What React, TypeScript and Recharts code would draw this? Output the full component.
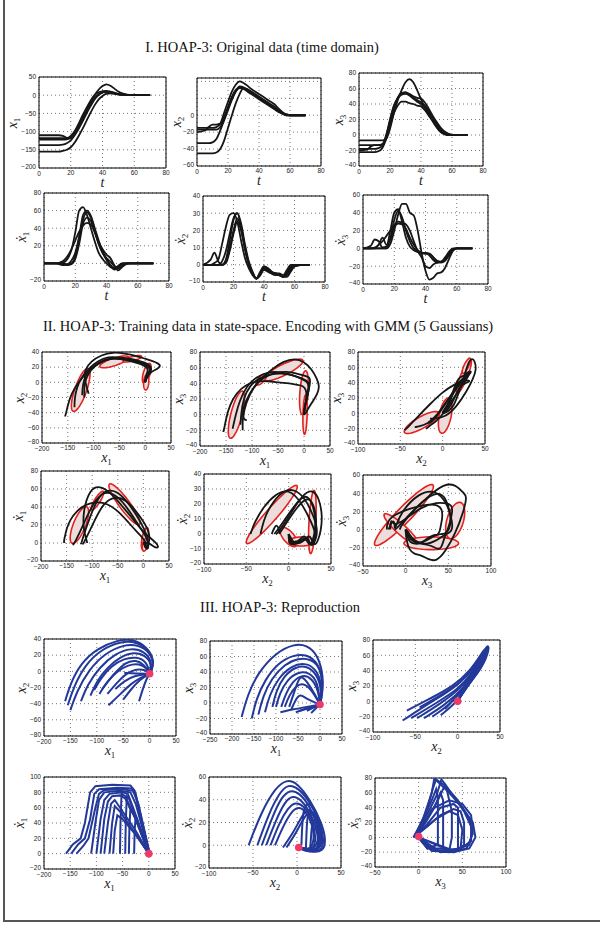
import React from 'react';
import { ScatterChart, Scatter, XAxis, YAxis, CartesianGrid, ReferenceArea } from 'recharts';

// time samples shared by the 5 demonstrations
const T = [0, 5, 7.5, 10, 12.5, 15, 17.5, 20, 22.5, 25, 27.5, 30, 32.5, 35, 37.5, 40, 42.5, 45, 47.5, 50, 52.5, 55, 57.5, 60, 65, 70];

// x1 per demo
const x1A = [-155, -155, -155, -155, -155, -153, -150, -143, -130, -112, -92, -70, -48, -28, -12, -2, 4, 5, 4, 2, 1, 0, 0, 0, 0, 0];
const x1B = [-137, -137, -137, -137, -137, -136, -132, -124, -110, -92, -72, -50, -30, -12, 0, 8, 10, 9, 6, 3, 1, 0, 0, 0, 0, 0];
const x1C = [-110, -110, -110, -110, -110, -112, -117, -118, -105, -85, -62, -40, -18, 0, 15, 25, 30, 26, 18, 10, 5, 2, 0, 0, 0, 0];
const x1D = [-118, -118, -118, -118, -118, -118, -118, -112, -98, -78, -55, -34, -15, 0, 8, 11, 12, 10, 7, 4, 2, 1, 0, 0, 0, 0];
const x1E = [-122, -122, -122, -122, -122, -122, -121, -117, -104, -85, -64, -43, -24, -8, 3, 8, 9, 7, 5, 2, 1, 0, 0, 0, 0, 0];

// x2 per demo
const x2A = [-45, -45, -45, -45, -44, -40, -30, -15, 0, 14, 25, 32, 31, 28, 25, 22, 19, 16, 13, 10, 6, 3, 1, 0, 0, 0];
const x2B = [-33, -33, -33, -32, -28, -18, -6, 6, 18, 28, 34, 33, 30, 27, 24, 21, 18, 15, 11, 8, 5, 2, 1, 0, 0, 0];
const x2C = [-15, -15, -15, -15, -14, -10, 3, 16, 28, 36, 40, 38, 35, 31, 28, 25, 22, 19, 16, 13, 8, 4, 1, 0, 0, 0];
const x2D = [-20, -18, -14, -11, -11, -10, -2, 10, 22, 30, 33, 32, 29, 26, 23, 20, 17, 14, 11, 8, 5, 2, 0, 0, 0, 0];
const x2E = [-17, -17, -17, -17, -17, -14, -4, 8, 20, 28, 32, 31, 28, 25, 22, 19, 16, 13, 10, 7, 4, 2, 0, 0, 0, 0];

// x3 per demo
const x3A = [-22, -22, -22, -22, -21, -17, -5, 12, 28, 38, 43, 43, 41, 40, 38, 37, 32, 25, 18, 11, 5, 2, 0, 0, 0, 0];
const x3B = [-18, -18, -18, -18, -17, -14, -2, 18, 37, 48, 54, 55, 52, 48, 45, 42, 38, 31, 23, 15, 8, 3, 1, 0, 0, 0];
const x3C = [-7, -7, -7, -7, -7, -7, -5, 8, 28, 45, 58, 68, 72, 68, 58, 46, 36, 27, 18, 10, 4, 1, 0, 0, 0, 0];
const x3D = [-20, -19, -15, -13, -13, -12, -5, 15, 35, 48, 54, 55, 53, 50, 48, 47, 42, 34, 25, 17, 10, 5, 2, 0, 0, 0];
const x3E = [-13, -13, -13, -13, -13, -12, 0, 20, 38, 47, 52, 53, 51, 47, 43, 40, 35, 28, 20, 12, 6, 2, 0, 0, 0, 0];

// velocities per demo
const dx1A = [0, 0, 0, 1, 3, 8, 16, 26, 36, 43, 46, 44, 35, 22, 12, 6, 2, -3, -6, -3, 0, 0, 0, 0, 0, 0];
const dx1B = [0, 0, 0, -1, -2, -1, 3, 12, 30, 50, 58, 52, 38, 22, 12, 4, -2, -7, -5, -1, 0, 0, 0, 0, 0, 0];
const dx1C = [0, 0, 0, 0, 1, 5, 15, 35, 60, 64, 55, 40, 25, 12, 5, 0, -4, -6, -3, 0, 0, 0, 0, 0, 0, 0];
const dx1D = [0, 0, 0, 0, -1, -2, -1, 5, 22, 45, 52, 48, 36, 24, 16, 10, 6, -2, -8, -4, -1, 0, 0, 0, 0, 0];
const dx1E = [0, 0, 0, 0, 0, -1, 0, 8, 30, 55, 60, 54, 40, 26, 14, 5, -2, -5, -3, 0, 0, 0, 0, 0, 0, 0];

const dx2A = [0, 0, 0, 0, 2, 8, 18, 27, 30, 22, 10, 1, -5, -8, -6, -2, -3, -5, -6, -6, -7, -6, -3, -1, 0, 0];
const dx2B = [0, 0, 1, 3, 12, 22, 29, 30, 25, 14, 4, -2, -6, -8, -5, -3, -4, -5, -5, -6, -7, -5, -2, 0, 0, 0];
const dx2C = [0, 0, 0, 0, 0, 3, 14, 26, 30, 24, 12, 2, -4, -8, -5, -1, -2, -4, -5, -6, -7, -4, -1, 0, 0, 0];
const dx2D = [0, 3, 7, 2, 0, 1, 8, 18, 25, 20, 9, 0, -5, -8, -6, -3, -3, -5, -5, -6, -7, -7, -4, -1, 0, 0];
const dx2E = [0, 0, 0, 0, 0, 2, 10, 20, 27, 21, 10, 1, -5, -8, -4, -1, -2, -4, -5, -5, -6, -3, 0, 0, 0, 0];

const dx3A = [0, 0, 1, 4, 8, 14, 20, 25, 28, 27, 22, 12, 4, -2, -5, -6, -6, -10, -15, -16, -14, -8, -2, 0, 0, 0];
const dx3B = [0, 0, 0, 4, 12, 4, 10, 25, 30, 29, 27, 20, 8, -3, -10, -20, -22, -18, -16, -15, -13, -7, -2, 0, 0, 0];
const dx3C = [0, 0, 0, 0, 0, 0, 5, 20, 38, 50, 50, 40, 37, 20, -5, -25, -35, -33, -28, -27, -22, -12, -3, 0, 0, 0];
const dx3D = [0, 3, 10, 8, 1, 2, 20, 40, 44, 30, 12, 2, -2, -4, -5, -5, -8, -13, -16, -15, -12, -6, -1, 0, 0, 0];
const dx3E = [0, 0, 0, 0, 0, 0, 12, 32, 42, 35, 20, 8, 0, -4, -5, -5, -6, -10, -14, -15, -10, -4, 0, 0, 0, 0];

const X1 = [x1A, x1B, x1C, x1D, x1E];
const X2 = [x2A, x2B, x2C, x2D, x2E];
const X3 = [x3A, x3B, x3C, x3D, x3E];
const DX1 = [dx1A, dx1B, dx1C, dx1D, dx1E];
const DX2 = [dx2A, dx2B, dx2C, dx2D, dx2E];
const DX3 = [dx3A, dx3B, dx3C, dx3D, dx3E];

// GMM components: centre c, principal half-axes a and b (data units)
type Gauss = { c: number[]; a: number[]; b: number[] };
const gmmX1X2: Gauss[] = [
  { c: [-125, -10], a: [15, 28], b: [10, -4] },
  { c: [-60, 27], a: [28, 6], b: [-1, 5] },
  { c: [-25, 31], a: [18, 3], b: [0, 3] },
  { c: [3, 12], a: [6, 13], b: [6, -2] },
  { c: [2, 0], a: [1, 10], b: [5, 0] },
];
const gmmX1X3: Gauss[] = [
  { c: [-130, 0], a: [12, 30], b: [10, -3] },
  { c: [-40, 57], a: [38, 12], b: [-2, 7] },
  { c: [-82, 45], a: [10, 6], b: [2, -4] },
  { c: [0, 28], a: [3, 28], b: [8, 0] },
  { c: [2, 0], a: [1, 25], b: [4, 0] },
];
const gmmX2X3: Gauss[] = [
  { c: [-25, -12], a: [20, 13], b: [-4, 6] },
  { c: [3, -3], a: [4, 23], b: [7, -1] },
  { c: [25, 48], a: [8, 22], b: [4, -1] },
  { c: [28, 62], a: [4, 10], b: [3, 0] },
];
const gmmX1D1: Gauss[] = [
  { c: [-125, 20], a: [15, 20], b: [10, -4] },
  { c: [-90, 47], a: [12, 10], b: [3, -3] },
  { c: [-37, 43], a: [30, -22], b: [5, 6] },
  { c: [3, 5], a: [5, 12], b: [5, -2] },
  { c: [3, -2], a: [2, 7], b: [5, 0] },
];
const gmmX2D2: Gauss[] = [
  { c: [-20, 13], a: [30, 19], b: [-3, 4] },
  { c: [0, -2], a: [10, -5], b: [2, 4] },
  { c: [15, -5], a: [15, 0], b: [0, 3] },
  { c: [28, 8], a: [2, 21], b: [4, 0] },
];
const gmmX3D3: Gauss[] = [
  { c: [-2, 16], a: [34, 33], b: [-6, 6] },
  { c: [-5, 0], a: [20, -17], b: [4, 4] },
  { c: [30, -15], a: [32, 0], b: [0, 7] },
  { c: [58, 10], a: [5, 20], b: [10, 0] },
];

// reproductions (section III)
const rep12 = [
  [[-160, -37], [-150, -15], [-130, 10], [-100, 28], [-60, 39], [-30, 40], [-5, 30], [8, 15], [5, 2], [0, -3]],
  [[-155, -42], [-143, -18], [-122, 8], [-92, 27], [-55, 37], [-25, 37], [0, 25], [8, 12], [3, 0], [0, -3]],
  [[-150, -48], [-138, -25], [-115, 2], [-85, 22], [-50, 33], [-20, 33], [2, 22], [8, 10], [0, -3]],
  [[-130, -37], [-118, -17], [-95, 5], [-65, 22], [-35, 29], [-10, 25], [5, 12], [0, -3]],
  [[-112, -30], [-100, -12], [-80, 5], [-55, 18], [-30, 24], [-8, 20], [5, 8], [0, -3]],
  [[-105, -23], [-92, -8], [-72, 7], [-48, 16], [-25, 18], [-5, 12], [0, -3]],
  [[-95, -28], [-80, -12], [-62, 0], [-40, 8], [-20, 10], [-3, 3], [0, -3]],
  [[-90, -22], [-70, -5], [-45, 12], [-25, 14], [-10, 8], [0, -3]],
  [[-80, -28], [-62, -14], [-45, -3], [-25, 3], [-8, 2], [0, -3]],
  [[-78, -42], [-55, -28], [-35, -15], [-15, -7], [0, -3]],
  [[-65, -22], [-48, -12], [-28, -5], [0, -3]],
  [[-50, -35], [-35, -22], [-18, -10], [0, -3]],
  [[-48, -2], [-25, -3], [0, -3]],
  [[-20, -37], [-12, -20], [-5, -8], [0, -3]],
];
const rep13 = [
  [[-178, -18], [-165, 10], [-140, 40], [-100, 65], [-60, 76], [-30, 75], [-5, 62], [8, 35], [5, 10], [0, -2]],
  [[-155, -20], [-145, 5], [-125, 30], [-95, 52], [-60, 62], [-30, 63], [-5, 52], [8, 30], [3, 5], [0, -2]],
  [[-140, -15], [-130, 8], [-110, 32], [-80, 50], [-50, 58], [-20, 57], [2, 45], [6, 20], [0, -2]],
  [[-125, -12], [-115, 10], [-95, 32], [-65, 48], [-35, 52], [-10, 45], [5, 25], [0, -2]],
  [[-108, -5], [-100, 15], [-82, 35], [-55, 47], [-30, 48], [-8, 38], [4, 18], [0, -2]],
  [[-100, -5], [-92, 12], [-75, 30], [-50, 40], [-25, 40], [-5, 28], [0, -2]],
  [[-88, -5], [-78, 12], [-62, 28], [-40, 37], [-18, 32], [-3, 15], [0, -2]],
  [[-80, -5], [-70, 10], [-55, 22], [-38, 26], [-20, 18], [0, -2]],
  [[-70, -5], [-55, 20], [-45, 37], [-30, 28], [-10, 10], [0, -2]],
  [[-65, -8], [-55, 5], [-45, 12], [-30, 5], [0, -2]],
  [[-90, -12], [-60, -8], [-30, -5], [0, -2]],
  [[-55, -12], [-35, -8], [-15, -5], [0, -2]],
  [[-45, -10], [-25, -6], [0, -2]],
  [[-30, -10], [-15, -6], [0, -2]],
  [[-20, -13], [-8, -6], [0, -2]],
];
const rep23 = [
  [[-65, -25], [-30, 0], [0, 20], [20, 45], [32, 68], [37, 75], [35, 60], [20, 40], [5, 15], [0, 0]],
  [[-60, -12], [-30, 5], [-5, 20], [15, 40], [28, 62], [34, 72], [33, 55], [18, 35], [5, 12], [0, 0]],
  [[-55, -22], [-25, -2], [0, 15], [18, 38], [30, 60], [35, 68], [30, 52], [15, 30], [0, 0]],
  [[-48, -22], [-20, -3], [5, 18], [20, 40], [30, 58], [33, 62], [28, 48], [12, 25], [0, 0]],
  [[-45, -8], [-20, 8], [5, 25], [20, 45], [30, 62], [25, 50], [10, 25], [0, 0]],
  [[-40, -22], [-15, -5], [8, 18], [22, 42], [32, 65], [36, 70], [30, 45], [12, 22], [0, 0]],
  [[-30, -20], [-10, -5], [10, 20], [25, 48], [35, 74], [38, 70], [30, 45], [10, 18], [0, 0]],
  [[-20, -18], [-5, -5], [10, 15], [25, 45], [33, 65], [28, 58], [15, 35], [0, 0]],
  [[-15, -10], [-2, 5], [12, 25], [25, 50], [30, 60], [20, 38], [5, 10], [0, 0]],
];
const rep1d = [
  [[-158, 0], [-145, 12], [-130, 20], [-122, 40], [-112, 80], [-102, 88], [-70, 90], [-35, 89], [-27, 82], [-15, 45], [0, 5], [2, 0]],
  [[-148, 0], [-135, 12], [-122, 20], [-112, 45], [-104, 78], [-95, 84], [-60, 86], [-33, 85], [-25, 78], [-12, 40], [0, 3], [2, 0]],
  [[-138, 0], [-125, 10], [-115, 20], [-102, 60], [-95, 78], [-85, 83], [-50, 84], [-30, 82], [-20, 65], [0, 5]],
  [[-110, 0], [-102, 40], [-95, 70], [-85, 80], [-55, 82], [-35, 80], [-25, 65], [0, 3]],
  [[-100, 0], [-92, 45], [-85, 70], [-75, 78], [-50, 80], [-40, 78], [-30, 60], [0, 2]],
  [[-92, 0], [-85, 45], [-78, 68], [-70, 75], [-55, 76], [-45, 72], [-25, 45], [0, 0]],
  [[-85, 0], [-78, 40], [-72, 65], [-65, 70], [-50, 55], [-25, 30], [0, 0]],
  [[-75, 0], [-70, 40], [-65, 62], [-55, 55], [-30, 30], [0, 0]],
  [[-68, 0], [-65, 30], [-60, 50], [-50, 45], [-25, 25], [0, 0]],
  [[-55, 0], [-54, 40], [-52, 78], [-45, 75], [-25, 45], [0, 0]],
  [[-45, 0], [-44, 40], [-42, 75], [-38, 72], [-20, 40], [0, 0]],
  [[-38, 0], [-37, 35], [-35, 60], [-28, 50], [-12, 25], [0, 0]],
  [[-28, 0], [-27, 30], [-25, 50], [-15, 30], [0, 0]],
];
const rep2d = [
  [[-55, 0], [-40, 30], [-25, 50], [-12, 58], [0, 55], [15, 40], [28, 20], [33, 5], [30, -6], [15, -6], [2, -2]],
  [[-45, 0], [-32, 28], [-20, 46], [-10, 54], [2, 50], [15, 38], [27, 18], [31, 3], [27, -6], [12, -5], [2, -2]],
  [[-40, 0], [-28, 25], [-18, 42], [-8, 49], [3, 46], [15, 34], [25, 15], [28, 0], [22, -6], [2, -2]],
  [[-35, 0], [-24, 22], [-14, 38], [-5, 44], [5, 40], [16, 28], [24, 10], [25, -3], [15, -6], [2, -2]],
  [[-30, 0], [-20, 20], [-10, 33], [-2, 38], [8, 35], [18, 22], [22, 5], [18, -5], [2, -2]],
  [[-25, 0], [-15, 18], [-6, 30], [2, 34], [10, 30], [18, 18], [20, 2], [12, -5], [2, -2]],
  [[-16, -2], [-5, 10], [5, 25], [12, 33], [20, 28], [25, 12], [25, -5], [10, -6], [2, -2]],
  [[-12, -2], [0, 12], [10, 28], [18, 30], [24, 15], [24, -5], [2, -2]],
  [[5, 0], [6, 20], [8, 35], [15, 38], [25, 25], [30, 5], [25, -6], [2, -2]],
  [[10, -5], [11, 15], [12, 30], [20, 30], [28, 12], [28, -6], [2, -2]],
  [[15, -5], [16, 10], [18, 25], [24, 20], [28, 0], [20, -6], [2, -2]],
];
const rep3d = [
  [[-5, 0], [5, 25], [15, 60], [18, 80], [22, 75], [35, 60], [50, 40], [62, 20], [65, 0], [58, -15], [40, -20], [20, -18], [5, -8], [0, 0]],
  [[-5, 2], [8, 30], [16, 65], [20, 78], [30, 70], [45, 50], [58, 25], [62, 5], [55, -15], [35, -20], [15, -18], [0, 0]],
  [[-6, 0], [5, 20], [20, 55], [26, 78], [30, 72], [40, 55], [52, 35], [60, 15], [60, -5], [45, -18], [20, -18], [0, 0]],
  [[-4, 3], [10, 25], [22, 50], [30, 70], [32, 65], [35, 50], [38, 35], [38, 0], [35, -18], [15, -18], [0, 0]],
  [[-5, 0], [8, 20], [18, 40], [25, 60], [28, 50], [28, 20], [28, -15], [10, -15], [0, 0]],
  [[-4, 0], [10, 18], [25, 40], [40, 45], [45, 40], [45, 0], [45, -18], [25, -20], [0, 0]],
  [[-5, 2], [10, 15], [25, 30], [40, 38], [48, 35], [52, 20], [52, -10], [40, -20], [0, 0]],
  [[-6, 0], [5, 10], [20, 25], [35, 35], [45, 30], [50, 10], [48, -15], [20, -18], [0, 0]],
  [[-5, 0], [15, 50], [20, 65], [22, 55], [22, 20], [22, -10], [10, -15], [0, 0]],
  [[-4, 0], [5, 15], [15, 38], [35, 50], [50, 45], [60, 30], [62, 10], [58, -10], [40, -18], [0, 0]],
];

const goals = [[0, -3], [0, -2], [0, 0], [0, 0], [2, -2], [0, 1]];

type Pt = { x: number; y: number };
const pair = (xs: number[], ys: number[]): Pt[] => xs.map((x, i) => ({ x, y: ys[i] }));
const fromPairs = (c: number[][]): Pt[] => c.map(([x, y]) => ({ x, y }));
const ellipsePts = (g: Gauss): Pt[] =>
  Array.from({ length: 60 }, (_, k) => {
    const th = (k / 60) * Math.PI * 2;
    return { x: g.c[0] + Math.cos(th) * g.a[0] + Math.sin(th) * g.b[0], y: g.c[1] + Math.cos(th) * g.a[1] + Math.sin(th) * g.b[1] };
  });

const fmt = (v: number) => (v < 0 ? '\u2212' + Math.abs(v) : String(v));
const noDot = () => <g />;
const filledPoly = (props: any) => (
  <path
    d={'M' + props.points.map((p: any) => `${p.x},${p.y}`).join('L') + 'Z'}
    fill="#ecdcdc"
    stroke="#e3201b"
    strokeWidth={1.6}
  />
);
const goalDot = (props: any) => <circle cx={props.cx} cy={props.cy} r={3.8} fill="#ee3a68" />;

const Sym = ({ v, i, dot }: { v: string; i?: string; dot?: boolean }) => (
  <span style={{ fontFamily: '"Liberation Serif", serif', fontStyle: 'italic', fontSize: 14, color: '#222', lineHeight: 1 }}>
    {dot ? '\u1E8B' : v}
    {i && <span style={{ fontSize: 9, fontStyle: 'normal', position: 'relative', top: 3 }}>{i}</span>}
  </span>
);

type PanelSpec = {
  box: number[];
  xd: number[];
  yd: number[];
  xt: number[];
  yt: number[];
  hideY?: number[];
  xl: React.ReactNode;
  yl: React.ReactNode;
  curves: Pt[][];
  curveType: any;
  color: string;
  sw: number;
  gmm?: Gauss[];
  goal?: number[];
  yOff: number;
  xOff: number;
};

const tickFont = { fontSize: 6.5, fill: '#222', fontFamily: '"Liberation Sans", Arial, sans-serif' };

function Panel({ p }: { p: PanelSpec }) {
  const [L, Tp, R, B] = p.box;
  const W = R - L + 44;
  const H = B - Tp + 36;
  // tick text; the corner labels are nudged apart like in the print
  const xTick = (t: any) => (
    <text x={t.x} y={t.y} dy={t.payload.value === p.xd[0] ? 7 : 6} textAnchor="middle" {...tickFont}>
      {fmt(t.payload.value)}
    </text>
  );
  const yTick = (t: any) => (
    <text x={t.x} y={t.y} dy={t.payload.value === p.yd[0] ? 0.5 : 2.3} textAnchor="end" {...tickFont}>
      {p.hideY && p.hideY.includes(t.payload.value) ? '' : fmt(t.payload.value)}
    </text>
  );
  return (
    <div style={{ position: 'absolute', left: L - 36, top: Tp - 6, width: W, height: H }}>
      <ScatterChart width={W} height={H} margin={{ top: 6, right: 8, bottom: 0, left: 0 }}>
        <CartesianGrid strokeDasharray="1 3" stroke="#555" strokeWidth={0.8} />
        <XAxis
          type="number"
          dataKey="x"
          domain={p.xd}
          ticks={p.xt}
          interval={0}
          allowDataOverflow
          height={30}
          tickLine={false}
          axisLine={false}
          tickSize={1}
          tickMargin={0}
          tick={xTick}
        />
        <YAxis
          type="number"
          dataKey="y"
          domain={p.yd}
          ticks={p.yt}
          interval={0}
          allowDataOverflow
          width={36}
          tickLine={false}
          axisLine={false}
          tickSize={1}
          tickMargin={2}
          tick={yTick}
        />
        {(p.gmm || []).map((g, k) => (
          <Scatter key={'g' + k} data={ellipsePts(g)} shape={noDot} line={filledPoly} isAnimationActive={false} />
        ))}
        {p.curves.map((c, k) => (
          <Scatter
            key={'c' + k}
            data={c}
            fill={p.color}
            shape={noDot}
            line={{ stroke: p.color, strokeWidth: p.sw }}
            lineJointType={p.curveType}
            isAnimationActive={false}
          />
        ))}
        {p.goal && (
          <Scatter data={[{ x: p.goal[0], y: p.goal[1] }]} shape={goalDot} isAnimationActive={false} />
        )}
        <ReferenceArea x1={p.xd[0]} x2={p.xd[1]} y1={p.yd[0]} y2={p.yd[1]} fill="none" stroke="#000" strokeWidth={1} ifOverflow="visible" />
      </ScatterChart>
      <div style={{ position: 'absolute', left: 36 + (R - L) / 2, top: B - Tp + 6 + p.xOff, transform: 'translate(-50%,-50%)', whiteSpace: 'nowrap', lineHeight: 1 }}>
        {p.xl}
      </div>
      <div style={{ position: 'absolute', left: 36 - p.yOff, top: 6 + (B - Tp) / 2, transform: 'translate(-50%,-50%) rotate(-90deg)', whiteSpace: 'nowrap', lineHeight: 1 }}>
        {p.yl}
      </div>
    </div>
  );
}

const tT = [0, 20, 40, 60, 80];
const t1 = <Sym v="t" />;
const demoTime = (Y: number[][]) => Y.map((ys) => pair(T, ys));
const demoPhase = (X: number[][], Y: number[][]) => X.map((xs, i) => pair(xs, Y[i]));
const K = '#161616';
const BL = '#23399a';

const panels: PanelSpec[] = [
  // I
  { box: [39, 77, 166, 168], xd: [0, 80], yd: [-200, 50], xt: tT, yt: [-200, -150, -100, -50, 0, 50], xl: t1, yl: <Sym v="x" i="1" />, curves: demoTime(X1), curveType: 'monotoneX', color: K, sw: 1.8, yOff: 27, xOff: 14 },
  { box: [197, 78, 321, 166], xd: [0, 80], yd: [-60, 44], xt: tT, yt: [-60, -40, -20, 0, 20, 40], hideY: [20, 40], xl: t1, yl: <Sym v="x" i="2" />, curves: demoTime(X2), curveType: 'monotoneX', color: K, sw: 1.8, yOff: 21, xOff: 14 },
  { box: [359, 73, 483, 166], xd: [0, 80], yd: [-40, 80], xt: tT, yt: [-40, -20, 0, 20, 40, 60, 80], xl: t1, yl: <Sym v="x" i="3" />, curves: demoTime(X3), curveType: 'monotoneX', color: K, sw: 1.8, yOff: 21, xOff: 14 },
  { box: [44, 193, 169, 281], xd: [0, 80], yd: [-20, 80], xt: tT, yt: [-20, 0, 20, 40, 60, 80], hideY: [0], xl: t1, yl: <Sym v="x" i="1" dot />, curves: demoTime(DX1), curveType: 'monotoneX', color: K, sw: 1.8, yOff: 23, xOff: 14 },
  { box: [203, 196, 325, 282], xd: [0, 80], yd: [-10, 40], xt: tT, yt: [-10, 0, 10, 20, 30, 40], xl: t1, yl: <Sym v="x" i="2" dot />, curves: demoTime(DX2), curveType: 'monotoneX', color: K, sw: 1.8, yOff: 23, xOff: 14 },
  { box: [363, 195, 488, 284], xd: [0, 80], yd: [-40, 60], xt: tT, yt: [-40, -20, 0, 20, 40, 60], xl: t1, yl: <Sym v="x" i="3" dot />, curves: demoTime(DX3), curveType: 'monotoneX', color: K, sw: 1.8, yOff: 23, xOff: 14 },
  // II
  { box: [42, 352, 171, 443], xd: [-200, 50], yd: [-80, 40], xt: [-200, -150, -100, -50, 0, 50], yt: [-80, -60, -40, -20, 0, 20, 40], xl: <Sym v="x" i="1" />, yl: <Sym v="x" i="2" />, curves: demoPhase(X1, X2), curveType: 'basis', color: K, sw: 1.8, gmm: gmmX1X2, yOff: 23, xOff: 14 },
  { box: [200, 352, 330, 446], xd: [-200, 50], yd: [-40, 80], xt: [-200, -150, -100, -50, 0, 50], yt: [-40, -20, 0, 20, 40, 60, 80], xl: <Sym v="x" i="1" />, yl: <Sym v="x" i="3" />, curves: demoPhase(X1, X3), curveType: 'basis', color: K, sw: 1.8, gmm: gmmX1X3, yOff: 22, xOff: 14 },
  { box: [358, 352, 485, 444], xd: [-100, 50], yd: [-40, 80], xt: [-100, -50, 0, 50], yt: [-40, -20, 0, 20, 40, 60, 80], xl: <Sym v="x" i="2" />, yl: <Sym v="x" i="3" />, curves: demoPhase(X2, X3), curveType: 'basis', color: K, sw: 1.8, gmm: gmmX2X3, yOff: 22, xOff: 14 },
  { box: [41, 471, 169, 561], xd: [-200, 50], yd: [-20, 80], xt: [-200, -150, -100, -50, 0, 50], yt: [-20, 0, 20, 40, 60, 80], xl: <Sym v="x" i="1" />, yl: <Sym v="x" i="1" dot />, curves: demoPhase(X1, DX1), curveType: 'basis', color: K, sw: 1.8, gmm: gmmX1D1, yOff: 23, xOff: 14 },
  { box: [204, 474, 331, 564], xd: [-100, 50], yd: [-20, 40], xt: [-100, -50, 0, 50], yt: [-20, -10, 0, 10, 20, 30, 40], xl: <Sym v="x" i="2" />, yl: <Sym v="x" i="2" dot />, curves: demoPhase(X2, DX2), curveType: 'basis', color: K, sw: 1.8, gmm: gmmX2D2, yOff: 22, xOff: 14 },
  { box: [363, 475, 491, 566], xd: [-50, 100], yd: [-40, 60], xt: [-50, 0, 50, 100], yt: [-40, -20, 0, 20, 40, 60], xl: <Sym v="x" i="3" />, yl: <Sym v="x" i="3" dot />, curves: demoPhase(X3, DX3), curveType: 'basis', color: K, sw: 1.8, gmm: gmmX3D3, yOff: 22, xOff: 14 },
  // III
  { box: [44, 639, 176, 736], xd: [-200, 50], yd: [-80, 40], xt: [-200, -150, -100, -50, 0, 50], yt: [-80, -60, -40, -20, 0, 20, 40], xl: <Sym v="x" i="1" />, yl: <Sym v="x" i="2" />, curves: rep12.map(fromPairs), curveType: 'basis', color: BL, sw: 2, goal: goals[0], yOff: 23, xOff: 14 },
  { box: [210, 641, 342, 734], xd: [-250, 50], yd: [-40, 80], xt: [-250, -200, -150, -100, -50, 0, 50], yt: [-40, -20, 0, 20, 40, 60, 80], xl: <Sym v="x" i="1" />, yl: <Sym v="x" i="3" />, curves: rep13.map(fromPairs), curveType: 'basis', color: BL, sw: 2, goal: goals[1], yOff: 22, xOff: 14 },
  { box: [373, 640, 500, 732], xd: [-100, 50], yd: [-40, 80], xt: [-100, -50, 0, 50], yt: [-40, -20, 0, 20, 40, 60, 80], xl: <Sym v="x" i="2" />, yl: <Sym v="x" i="3" />, curves: rep23.map(fromPairs), curveType: 'basis', color: BL, sw: 2, goal: goals[2], yOff: 22, xOff: 14 },
  { box: [44, 777, 175, 869], xd: [-200, 50], yd: [-20, 100], xt: [-200, -150, -100, -50, 0, 50], yt: [-20, 0, 20, 40, 60, 80, 100], xl: <Sym v="x" i="1" />, yl: <Sym v="x" i="1" dot />, curves: rep1d.map(fromPairs), curveType: 'linear', color: BL, sw: 2, goal: goals[3], yOff: 25, xOff: 14 },
  { box: [209, 777, 341, 868], xd: [-100, 50], yd: [-20, 60], xt: [-100, -50, 0, 50], yt: [-20, 0, 20, 40, 60], xl: <Sym v="x" i="2" />, yl: <Sym v="x" i="2" dot />, curves: rep2d.map(fromPairs), curveType: 'basis', color: BL, sw: 2, goal: goals[4], yOff: 22, xOff: 14 },
  { box: [375, 778, 506, 867], xd: [-50, 100], yd: [-40, 80], xt: [-50, 0, 50, 100], yt: [-40, -20, 0, 20, 40, 60, 80], xl: <Sym v="x" i="3" />, yl: <Sym v="x" i="3" dot />, curves: rep3d.map(fromPairs), curveType: 'linear', color: BL, sw: 2, goal: goals[5], yOff: 22, xOff: 14 },
];

const titles = [
  { text: 'I. HOAP-3: Original data (time domain)', cx: 262, cy: 47 },
  { text: 'II. HOAP-3: Training data in state-space. Encoding with GMM (5 Gaussians)', cx: 268, cy: 326 },
  { text: 'III. HOAP-3: Reproduction', cx: 280, cy: 607 },
];

export default function App() {
  return (
    <div style={{ position: 'absolute', left: 0, top: 0, width: 600, height: 925, background: '#fff', overflow: 'hidden' }}>
      <div style={{ position: 'absolute', left: 3, top: 0, width: 2, height: 922, background: '#555' }} />
      <div style={{ position: 'absolute', left: 3, top: 920, width: 597, height: 2, background: '#555' }} />
      {titles.map((t) => (
        <div
          key={t.text}
          style={{
            position: 'absolute',
            left: t.cx,
            top: t.cy,
            transform: 'translate(-50%,-50%)',
            whiteSpace: 'nowrap',
            fontFamily: '"Liberation Serif", "Times New Roman", serif',
            fontSize: 14.5,
            color: '#111',
          }}
        >
          {t.text}
        </div>
      ))}
      {panels.map((p, k) => (
        <Panel key={k} p={p} />
      ))}
    </div>
  );
}
